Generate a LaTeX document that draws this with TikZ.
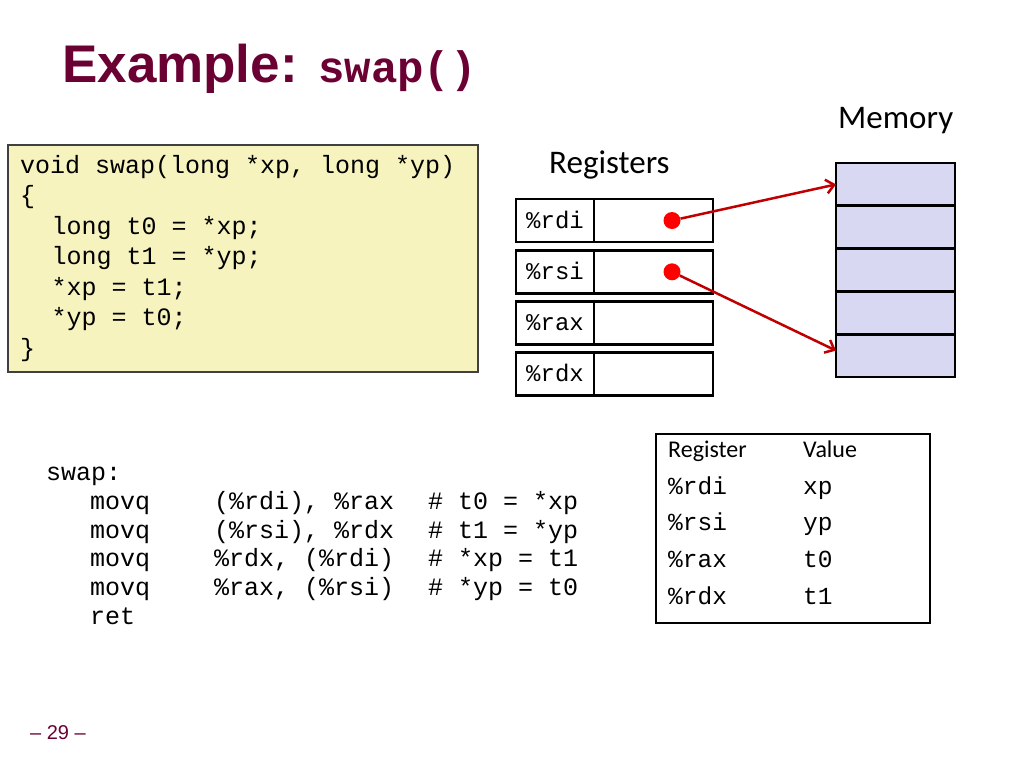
\documentclass[tikz,border=0pt]{standalone}
\usepackage{fontspec}
\setmainfont{Liberation Sans}
\setmonofont{Liberation Mono}
\newfontfamily\calibfont{Carlito}
\usepackage{tikz}
\usetikzlibrary{arrows.meta,positioning}
\definecolor{maroon}{HTML}{6B0033}
\definecolor{codebg}{HTML}{F6F3BE}
\definecolor{codeline}{HTML}{404040}
\definecolor{memfill}{HTML}{D8D8F3}
\definecolor{ptrred}{HTML}{C00000}
\definecolor{dotred}{HTML}{FF0000}
\tikzset{
  title/.style={text=maroon, font=\bfseries\fontsize{53}{60}\selectfont, anchor=base west, inner sep=0pt},
  titlett/.style={title, font=\ttfamily\bfseries\fontsize{44}{50}\selectfont},
  code/.style={font=\ttfamily\fontsize{25}{30}\selectfont, anchor=base west, inner sep=0pt},
  tcode/.style={font=\ttfamily\fontsize{24.5}{28}\selectfont, anchor=base west, inner sep=0pt},
  head/.style={font=\calibfont\fontsize{33}{38}\selectfont, anchor=base west, inner sep=0pt},
  thead/.style={font=\calibfont\fontsize{24}{28}\selectfont, anchor=base west, inner sep=0pt},
  codebox/.style={draw=codeline, fill=codebg, line width=1.5pt, minimum width=470pt, minimum height=227pt, inner sep=0pt, outer sep=0pt},
  regcell/.style={draw=black, line width=2.9pt, minimum width=78pt, minimum height=43pt, inner sep=0pt, outer sep=0pt,
    font=\ttfamily\fontsize{24}{28}\selectfont, text height=15pt, text depth=0pt},
  valcell/.style={regcell, minimum width=119pt},
  memcell/.style={draw=black, fill=memfill, line width=2.9pt, minimum width=119pt, minimum height=42.8pt, inner sep=0pt, outer sep=0pt},
  tablebox/.style={draw=black, line width=2.9pt, minimum width=274pt, minimum height=189pt, inner sep=0pt, outer sep=0pt},
  dot/.style={circle, fill=dotred, minimum size=17pt, inner sep=0pt},
  ptr/.style={draw=ptrred, line width=2.5pt, -{Straight Barb[length=8pt,width=14pt]}},
  pagenum/.style={text=maroon, font=\fontsize{20}{24}\selectfont, anchor=base west, inner sep=0pt},
}
\begin{document}
\begin{tikzpicture}[x=1pt,y=-1pt]
  \useasboundingbox (0,0) rectangle (1024,768);

  % title
  \node[title] (title) at (62,82) {Example:};
  \node[titlett] (titlefn) at (318,82) {swap()};

  % C source
  \node[codebox] (codebox) at (243,258.5) {};
  \node[code] (c1) at (20,173.3) {void swap(long *xp, long *yp)};
  \node[code] (c2) at (20,203.8) {\{};
  \node[code] (c3) at (51.5,234.3) {long t0 = *xp;};
  \node[code] (c4) at (51.5,264.8) {long t1 = *yp;};
  \node[code] (c5) at (51.5,295.3) {*xp = t1;};
  \node[code] (c6) at (51.5,325.8) {*yp = t0;};
  \node[code] (c7) at (20,356.3) {\}};

  % registers
  \node[head] (reghead) at (549,173) {Registers};
  \foreach \reg [count=\i from 0] in {rdi,rsi,rax,rdx}
  {
    \node[regcell] (r\reg) at (555,{220.5+51.3*\i}) {\%\reg};
    \node[valcell, right=0pt of r\reg] (v\reg) {};
  }
  \node[dot] (d1) at ([xshift=18.5pt]vrdi.center) {};
  \node[dot] (d2) at ([xshift=18.5pt]vrsi.center) {};

  % memory
  \node[head] (memhead) at (838,128) {Memory};
  \foreach \i in {0,...,4}
    \node[memcell] (m\i) at (895.5,{184.4+42.8*\i}) {};

  \draw[ptr] (d1) -- (m0.west);
  \draw[ptr] (d2) -- ([yshift=5pt]m4.west);

  % assembly
  \node[code] (asmlbl) at (46,480) {swap:};
  \foreach \args/\cmt [count=\i from 0] in
    {{(\%rdi), \%rax}/{\# t0 = *xp},
     {(\%rsi), \%rdx}/{\# t1 = *yp},
     {\%rdx, (\%rdi)}/{\# *xp = t1},
     {\%rax, (\%rsi)}/{\# *yp = t0}}
  {
    \node[code] (op\i) at (90,{509.5+28.7*\i}) {movq};
    \node[code] (arg\i) at (214,{509.5+28.7*\i}) {\args};
    \node[code] (cmt\i) at (428,{509.5+28.7*\i}) {\cmt};
  }
  \node[code] (ret) at (90,624.3) {ret};

  % register table
  \node[tablebox] (tbl) at (793,528.5) {};
  \node[thead] (threg) at (668,457) {Register};
  \node[thead] (thval) at (803,457) {Value};
  \foreach \reg/\val [count=\i from 0] in {rdi/xp,rsi/yp,rax/t0,rdx/t1}
  {
    \node[tcode] (tr\i) at (668,{494+36.8*\i}) {\%\reg};
    \node[tcode] (tv\i) at (803,{494+36.8*\i}) {\val};
  }

  % page number
  \node[pagenum] (page) at (30,739) {– 29 –};
\end{tikzpicture}
\end{document}
